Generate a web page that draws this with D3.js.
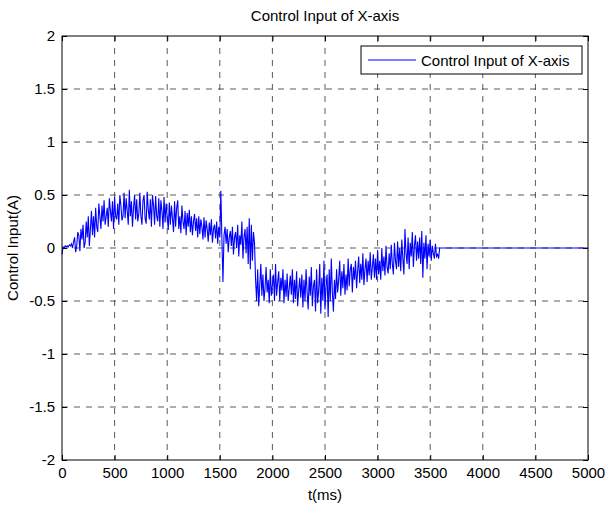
<!DOCTYPE html>
<html>
<head>
<meta charset="utf-8">
<script src="https://cdn.jsdelivr.net/npm/d3@7"></script>
<style>
  body { margin:0; background:#fff; }
  svg text { font-family: Arial, "Liberation Sans", sans-serif; fill:#000; }
</style>
</head>
<body>
<div id="chart"></div>
<script>
// control input signal, one sample every 10 ms from t = 0
const SAMPLE_STEP = 10;
const SIGNAL = [
  -0.06, 0.01, 0.0, 0.02, 0.01, 0.02, 0.01, 0.03, 0.02, 0.04,
  0.0, 0.06, 0.1, -0.04, 0.02, 0.15, 0.12, -0.03, 0.18, 0.08,
  0.22, 0.0, 0.05, 0.25, 0.1, 0.3, 0.02, 0.18, 0.35, 0.12,
  0.3, 0.1, 0.38, 0.2, 0.15, 0.42, 0.3, 0.18, 0.4, 0.25,
  0.45, 0.22, 0.3, 0.38, 0.2, 0.47, 0.35, 0.25, 0.44, 0.18,
  0.48, 0.3, 0.27, 0.42, 0.22, 0.5, 0.4, 0.26, 0.3, 0.52,
  0.28, 0.47, 0.35, 0.22, 0.55, 0.3, 0.44, 0.2, 0.38, 0.5,
  0.27, 0.46, 0.25, 0.32, 0.52, 0.3, 0.22, 0.45, 0.5, 0.28,
  0.23, 0.53, 0.36, 0.27, 0.46, 0.2, 0.5, 0.4, 0.22, 0.49,
  0.3, 0.25, 0.47, 0.2, 0.45, 0.35, 0.18, 0.48, 0.24, 0.42,
  0.3, 0.17, 0.43, 0.22, 0.4, 0.28, 0.15, 0.44, 0.2, 0.38,
  0.45, 0.18, 0.3, 0.14, 0.4, 0.25, 0.18, 0.35, 0.12, 0.33,
  0.2, 0.36, 0.15, 0.3, 0.12, 0.25, 0.32, 0.16, 0.28, 0.1,
  0.3, 0.13, 0.27, 0.2, 0.08, 0.29, 0.1, 0.26, 0.18, 0.06,
  0.24, 0.12, 0.27, 0.05, 0.18, 0.22, 0.09, 0.25, 0.04, 0.2,
  0.1, 0.54, 0.08, -0.32, 0.12, 0.2, 0.04, 0.18, -0.04, 0.1,
  0.16, 0.02, 0.2, -0.06, 0.1, 0.15, 0.0, 0.22, -0.08, 0.12,
  0.03, 0.25, -0.1, 0.1, 0.18, -0.05, 0.2, -0.15, 0.28, -0.2,
  0.22, -0.12, 0.15, 0.05, -0.3, -0.5, -0.2, -0.55, -0.35, -0.15,
  -0.45, -0.25, -0.5, -0.38, -0.18, -0.42, -0.3, -0.52, -0.2, -0.45,
  -0.35, -0.25, -0.5, -0.15, -0.45, -0.32, -0.22, -0.5, -0.28, -0.4,
  -0.2, -0.52, -0.3, -0.46, -0.24, -0.5, -0.38, -0.26, -0.44, -0.2,
  -0.52, -0.3, -0.48, -0.22, -0.55, -0.4, -0.28, -0.47, -0.25, -0.56,
  -0.3, -0.5, -0.2, -0.42, -0.58, -0.27, -0.45, -0.18, -0.55, -0.36,
  -0.3, -0.6, -0.2, -0.52, -0.4, -0.15, -0.62, -0.28, -0.5, -0.12,
  -0.58, -0.35, -0.25, -0.65, -0.2, -0.5, -0.1, -0.42, -0.6, -0.3,
  -0.48, -0.2, -0.42, -0.3, -0.12, -0.45, -0.22, -0.38, -0.15, -0.44,
  -0.25, -0.4, -0.1, -0.36, -0.2, -0.15, -0.42, -0.18, -0.3, -0.12,
  -0.38, -0.22, -0.08, -0.33, -0.15, -0.3, -0.05, -0.35, -0.2, -0.1,
  -0.32, -0.12, -0.26, -0.04, -0.3, -0.18, -0.06, -0.28, -0.1, -0.3,
  -0.02, -0.25, -0.12, -0.3, 0.0, -0.22, -0.08, -0.26, 0.02, -0.18,
  -0.24, -0.05, -0.2, 0.03, -0.15, -0.25, 0.05, -0.12, -0.2, 0.06,
  -0.18, 0.0, -0.22, 0.08, -0.1, -0.25, 0.18, -0.05, -0.15, 0.1,
  -0.2, 0.05, -0.08, 0.15, -0.18, 0.02, 0.12, -0.12, 0.06, -0.1,
  0.1, -0.15, 0.16, -0.28, 0.05, -0.1, 0.12, -0.2, 0.04, -0.08,
  0.08, -0.12, 0.02, -0.05, -0.1, 0.04, -0.08, -0.06, -0.1, 0.0
];
// after the control stops the output stays at zero
const TAIL_T = [3600, 5000];
const TAIL_V = [0, 0];

const X_TICKS = [0, 500, 1000, 1500, 2000, 2500, 3000, 3500, 4000, 4500, 5000];
const Y_TICKS = [-2, -1.5, -1, -0.5, 0, 0.5, 1, 1.5, 2];
const TITLE = "Control Input of X-axis";
const SERIES_NAME = "Control Input of X-axis";

const totalW = 608, totalH = 505;
const margin = { top:36, right:20, bottom:45, left:62 };
const W = totalW - margin.left - margin.right, H = totalH - margin.top - margin.bottom;
const FONT = "15px";

const svg = d3.select("#chart").append("svg").attr("width", totalW).attr("height", totalH);
const g = svg.append("g").attr("transform", `translate(${margin.left},${margin.top})`);

const x = d3.scaleLinear().domain([0, 5000]).range([0, W]);
const y = d3.scaleLinear().domain([-2, 2]).range([H, 0]);

const pts = SIGNAL.map((v, i) => [i * SAMPLE_STEP, v]).concat(TAIL_T.map((t, i) => [t, TAIL_V[i]]));

// dashed grid
g.append("g").selectAll("line").data(X_TICKS.slice(1, -1)).enter().append("line")
  .attr("x1", d => x(d)).attr("x2", d => x(d)).attr("y1", 0).attr("y2", H)
  .attr("stroke", "#333").attr("stroke-width", 1).attr("stroke-dasharray", "6,6").attr("opacity", 0.8);
g.append("g").selectAll("line").data(Y_TICKS.slice(1, -1)).enter().append("line")
  .attr("y1", d => y(d)).attr("y2", d => y(d)).attr("x1", 0).attr("x2", W)
  .attr("stroke", "#333").attr("stroke-width", 1).attr("stroke-dasharray", "6,6").attr("opacity", 0.8);

// signal
g.append("path").datum(pts)
  .attr("fill", "none").attr("stroke", "#0000ff").attr("stroke-width", 1.1)
  .attr("d", d3.line().x(d => x(d[0])).y(d => y(d[1])));

// axes: inward ticks on all four sides
const tk = 5;
g.append("g").attr("transform", `translate(0,${H})`)
  .call(d3.axisBottom(x).tickValues(X_TICKS).tickSize(-tk).tickPadding(7).tickSizeOuter(0).tickFormat(d => d));
g.append("g")
  .call(d3.axisTop(x).tickValues(X_TICKS).tickSize(-tk).tickFormat("").tickSizeOuter(0));
g.append("g")
  .call(d3.axisLeft(y).tickValues(Y_TICKS).tickSize(-tk).tickPadding(7).tickSizeOuter(0).tickFormat(d => d));
g.append("g").attr("transform", `translate(${W},0)`)
  .call(d3.axisRight(y).tickValues(Y_TICKS).tickSize(-tk).tickFormat("").tickSizeOuter(0));
g.selectAll(".tick text").style("font-size", FONT).attr("fill", "#000");
g.selectAll(".domain").attr("stroke", "none");
g.selectAll(".tick line").attr("stroke", "#000");
g.append("rect").attr("width", W).attr("height", H).attr("fill", "none").attr("stroke", "#000").attr("stroke-width", 1);

// labels
svg.append("text").attr("x", margin.left + W / 2).attr("y", 21).attr("text-anchor", "middle")
  .style("font-size", FONT).text(TITLE);
svg.append("text").attr("x", margin.left + W / 2).attr("y", 500).attr("text-anchor", "middle")
  .style("font-size", FONT).text("t(ms)");
svg.append("text").attr("transform", `translate(18,${margin.top + H / 2}) rotate(-90)`)
  .attr("text-anchor", "middle").style("font-size", FONT).text("Control Input(A)");

// legend
const lg = svg.append("g").attr("transform", "translate(361,46)");
lg.append("rect").attr("width", 221).attr("height", 28).attr("fill", "#fff").attr("stroke", "#000");
lg.append("line").attr("x1", 7).attr("x2", 55).attr("y1", 14).attr("y2", 14).attr("stroke", "#0000ff");
lg.append("text").attr("x", 60).attr("y", 19.5).style("font-size", FONT).text(SERIES_NAME);
</script>
</body>
</html>
